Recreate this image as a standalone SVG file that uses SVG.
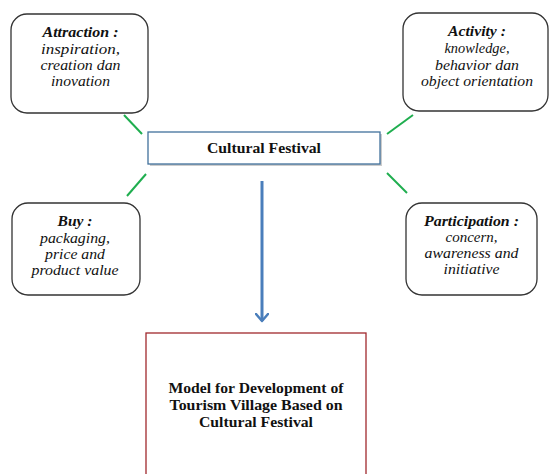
<svg xmlns="http://www.w3.org/2000/svg" width="549" height="474" viewBox="0 0 549 474">
<style>
.rb{fill:#fff;stroke:#333;stroke-width:1.3}
.t{font-family:'Liberation Serif','Times New Roman','DejaVu Serif',serif;font-size:15px;text-anchor:middle;fill:#111}
.h{font-weight:bold;font-style:italic}
.i{font-style:italic}
.b{font-weight:bold}
.g{stroke:#1fae4f;stroke-width:2;fill:none}
</style>
<defs>
<marker id="ah" markerWidth="12" markerHeight="14" refX="8" refY="7" orient="auto" markerUnits="userSpaceOnUse">
<path d="M1,1 L8,7 L1,13" fill="none" stroke="#4a7ebb" stroke-width="2.5" stroke-linecap="round" stroke-linejoin="round"/>
</marker>
</defs>
<rect width="549" height="474" fill="#fff"/>
<g id="connectors">
<line class="g" x1="124" y1="115" x2="142" y2="134"/>
<line class="g" x1="146" y1="174" x2="127" y2="196"/>
<line class="g" x1="387" y1="134" x2="413" y2="115"/>
<line class="g" x1="387" y1="173" x2="407" y2="193"/>
<line x1="262" y1="181" x2="262" y2="321" stroke="#4a7ebb" stroke-width="3" marker-end="url(#ah)"/>
</g>
<g id="attraction">
<rect class="rb" x="11" y="14" width="137" height="99" rx="16"/>
<text class="t h" x="80.5" y="37" textLength="76" lengthAdjust="spacingAndGlyphs">Attraction :</text>
<text class="t i" x="80.5" y="54" textLength="79" lengthAdjust="spacingAndGlyphs">inspiration,</text>
<text class="t i" x="80.5" y="70" textLength="80" lengthAdjust="spacingAndGlyphs">creation dan</text>
<text class="t i" x="80.5" y="86" textLength="59" lengthAdjust="spacingAndGlyphs">inovation</text>
</g>
<g id="activity">
<rect class="rb" x="403" y="13" width="145" height="98" rx="16"/>
<text class="t h" x="477" y="36" textLength="58" lengthAdjust="spacingAndGlyphs">Activity :</text>
<text class="t i" x="477" y="53" textLength="65" lengthAdjust="spacingAndGlyphs">knowledge,</text>
<text class="t i" x="477" y="70" textLength="84" lengthAdjust="spacingAndGlyphs">behavior dan</text>
<text class="t i" x="477" y="86" textLength="112" lengthAdjust="spacingAndGlyphs">object orientation</text>
</g>
<g id="cultural-festival">
<rect x="150" y="134" width="232" height="32" fill="#ccc"/>
<rect x="148" y="132" width="232" height="32" fill="#fff" stroke="#41719c" stroke-width="1.3"/>
<text class="t b" x="264" y="153" textLength="114" lengthAdjust="spacingAndGlyphs">Cultural Festival</text>
</g>
<g id="buy">
<rect class="rb" x="12" y="203" width="128" height="92" rx="16"/>
<text class="t h" x="75" y="226" textLength="35" lengthAdjust="spacingAndGlyphs">Buy :</text>
<text class="t i" x="75" y="243" textLength="70" lengthAdjust="spacingAndGlyphs">packaging,</text>
<text class="t i" x="75" y="259" textLength="60" lengthAdjust="spacingAndGlyphs">price and</text>
<text class="t i" x="75" y="275" textLength="87" lengthAdjust="spacingAndGlyphs">product value</text>
</g>
<g id="participation">
<rect class="rb" x="406" y="203" width="131" height="92" rx="16"/>
<text class="t h" x="471.5" y="226" textLength="95" lengthAdjust="spacingAndGlyphs">Participation :</text>
<text class="t i" x="471.5" y="242" textLength="52" lengthAdjust="spacingAndGlyphs">concern,</text>
<text class="t i" x="471.5" y="258" textLength="94" lengthAdjust="spacingAndGlyphs">awareness and</text>
<text class="t i" x="471.5" y="274" textLength="56" lengthAdjust="spacingAndGlyphs">initiative</text>
</g>
<g id="model">
<rect x="146" y="333" width="220" height="150" fill="#fff" stroke="#a0282d" stroke-width="1.3"/>
<text class="t b" x="256" y="393" textLength="175" lengthAdjust="spacingAndGlyphs">Model for Development of</text>
<text class="t b" x="256" y="410" textLength="173" lengthAdjust="spacingAndGlyphs">Tourism Village Based on</text>
<text class="t b" x="256" y="427" textLength="114" lengthAdjust="spacingAndGlyphs">Cultural Festival</text>
</g>
</svg>
